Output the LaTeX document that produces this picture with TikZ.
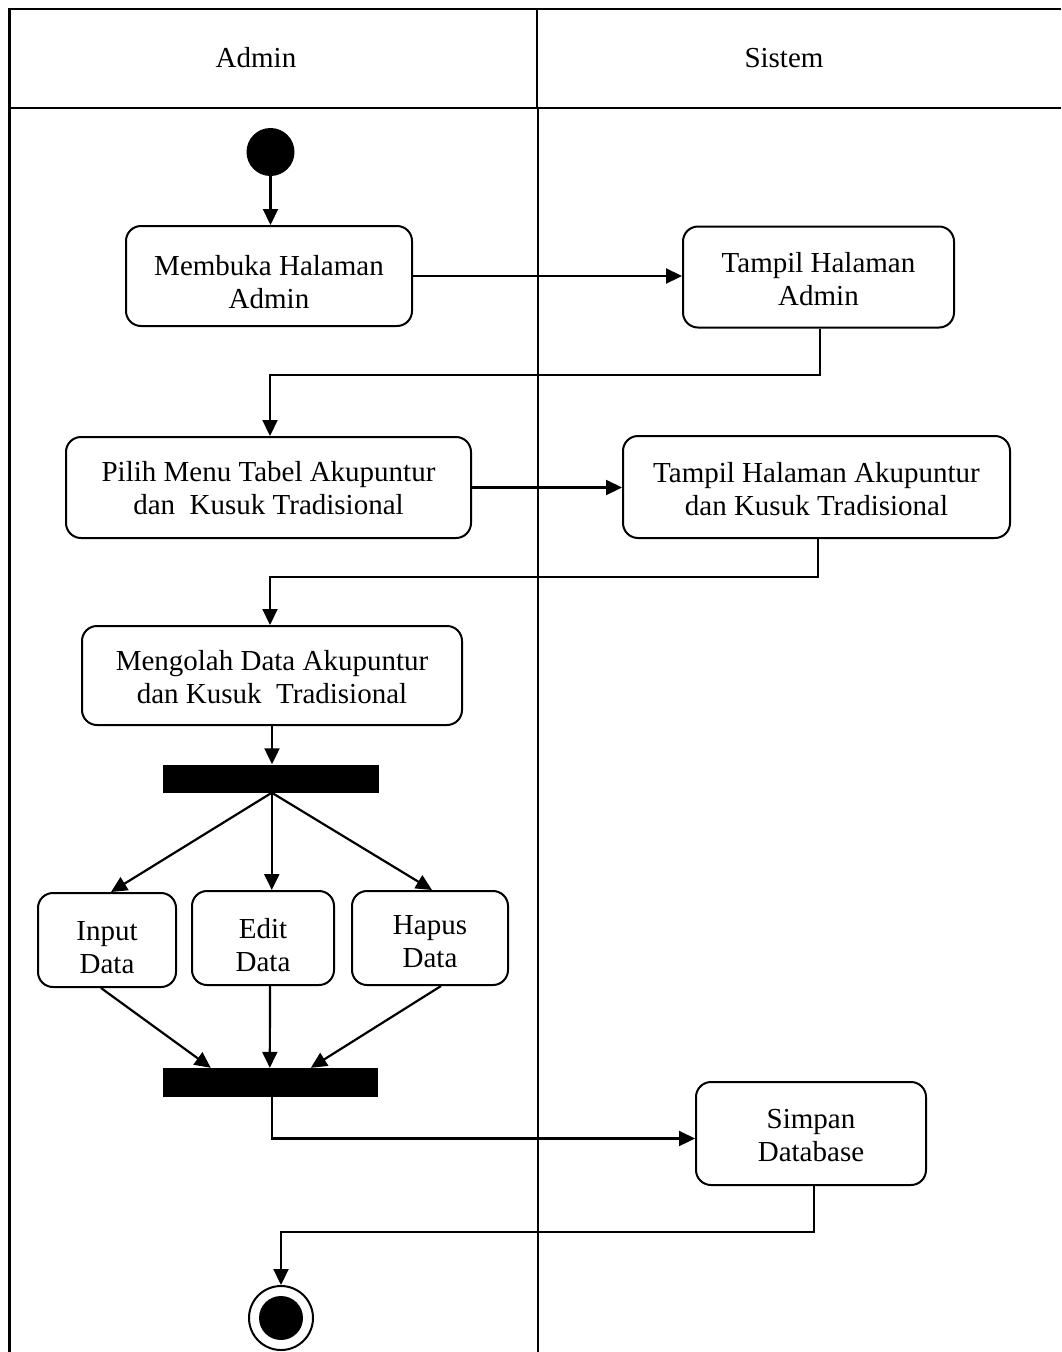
\documentclass[tikz,border=0pt]{standalone}
\usepackage{fontspec}
\setmainfont{Liberation Serif}
\usetikzlibrary{arrows.meta,calc}
\newcommand\lowtxt[2]{\raisebox{-#1}[\height][\depth]{\begin{tabular}{@{}c@{}}#2\end{tabular}}}
\begin{document}
\begin{tikzpicture}[x=1pt,y=-1pt,
  box/.style={draw, rounded corners=15pt, line width=2pt, inner sep=0pt,
    font=\fontsize{29}{33}\selectfont},
  bar/.style={fill=black, draw=none, inner sep=0pt},
  arr/.style={line width=2.2pt, -{Triangle[length=16pt,width=15pt]}},
  lane/.style={line width=2.4pt},
  lanetext/.style={font=\fontsize{29}{33}\selectfont, inner sep=0pt}]
\useasboundingbox (0,0) rectangle (1061,1352);
% swimlanes
\draw[lane] (1061,9) -- (9.5,9) -- (9.5,1352);
\draw[lane] (9.5,108) -- (1061,108);
\draw[line width=2pt] (537,9) -- (537,108);
\draw[line width=2pt] (538,108) -- (538,1352);
\node[lanetext] (hAdmin) at (256,58) {Admin};
\node[lanetext] (hSistem) at (784,58) {Sistem};
% nodes
\node[circle, fill=black, inner sep=0pt, minimum size=48pt] (start) at (270.5,152) {};
\node[box, minimum width=286pt, minimum height=100pt] (membuka) at (269,276) {\lowtxt{9pt}{Membuka Halaman\\Admin}};
\node[box, minimum width=271pt, minimum height=101pt] (tampil1) at (818.5,277) {\lowtxt{5pt}{Tampil Halaman\\Admin}};
\node[box, minimum width=405pt, minimum height=101pt] (pilih) at (268.5,487.5) {\lowtxt{4pt}{Pilih Menu Tabel Akupuntur\\dan\ \ Kusuk Tradisional}};
\node[box, minimum width=387pt, minimum height=102pt] (tampil2) at (816.5,487) {\lowtxt{5pt}{Tampil Halaman Akupuntur\\dan Kusuk Tradisional}};
\node[box, minimum width=380pt, minimum height=99pt] (mengolah) at (272,675.5) {\lowtxt{5pt}{Mengolah Data Akupuntur\\dan Kusuk\ \ Tradisional}};
\node[bar, minimum width=216pt, minimum height=28pt] (fork) at (271,778.5) {};
\node[box, minimum width=138pt, minimum height=94pt] (input) at (107,940) {\lowtxt{10pt}{Input\\Data}};
\node[box, minimum width=142pt, minimum height=94pt] (edit) at (263,938) {\lowtxt{10pt}{Edit\\Data}};
\node[box, minimum width=156pt, minimum height=94pt] (hapus) at (430,938) {\lowtxt{6pt}{Hapus\\Data}};
\node[bar, minimum width=215pt, minimum height=29pt] (join) at (270.5,1082.5) {};
\node[box, minimum width=230pt, minimum height=103pt] (simpan) at (811,1133.5) {\lowtxt{5pt}{Simpan\\Database}};
\node[circle, draw=black, line width=2pt, inner sep=0pt, minimum size=64pt] (end) at (281,1318) {};
\node[circle, fill=black, inner sep=0pt, minimum size=44pt] (endin) at (end.center) {};
% helper coordinates
\coordinate (c1) at (270,375);
\coordinate (c2) at (270,577);
\coordinate (c3) at (281,1232);
\coordinate (jin) at ($(join.north west)+(48,0)$);
\coordinate (jhp) at ($(join.north west)+(148,0)$);
\coordinate (jed) at ($(join.north west)+(107,0)$);
\coordinate (fo) at ($(fork.south west)+(109,0)$);
% connectors
\draw[arr] (start.south) -- (start.south |- membuka.north);
\draw[arr] (membuka.east) -- (membuka.east -| tampil1.west);
\draw[arr] ($(tampil1.south)+(1.5,0)$) |- (c1) -- (c1 |- pilih.north);
\draw[arr] (pilih.east) -- (pilih.east -| tampil2.west);
\draw[arr] ($(tampil2.south)+(1.5,0)$) |- (c2) -- (c2 |- mengolah.north);
\draw[arr] (mengolah.south) -- (mengolah.south |- fork.north);
\draw[arr] (fo) -- ($(input.north)+(4,0)$);
\draw[arr] (fo) -- (fo |- edit.north);
\draw[arr] (fo) -- ($(hapus.north)+(2,0)$);
\draw[arr] ($(input.south)+(-6,0)$) -- (jin);
\draw[arr] ($(edit.south)+(7,0)$) -- (jed);
\draw[arr] ($(hapus.south)+(11,0)$) -- (jhp);
\draw[arr] ($(join.south)+(1.5,0)$) |- ($(simpan.west)+(0,5)$);
\draw[arr] ($(simpan.south)+(3,0)$) |- (c3) -- (c3 |- end.north);
\end{tikzpicture}
\end{document}
